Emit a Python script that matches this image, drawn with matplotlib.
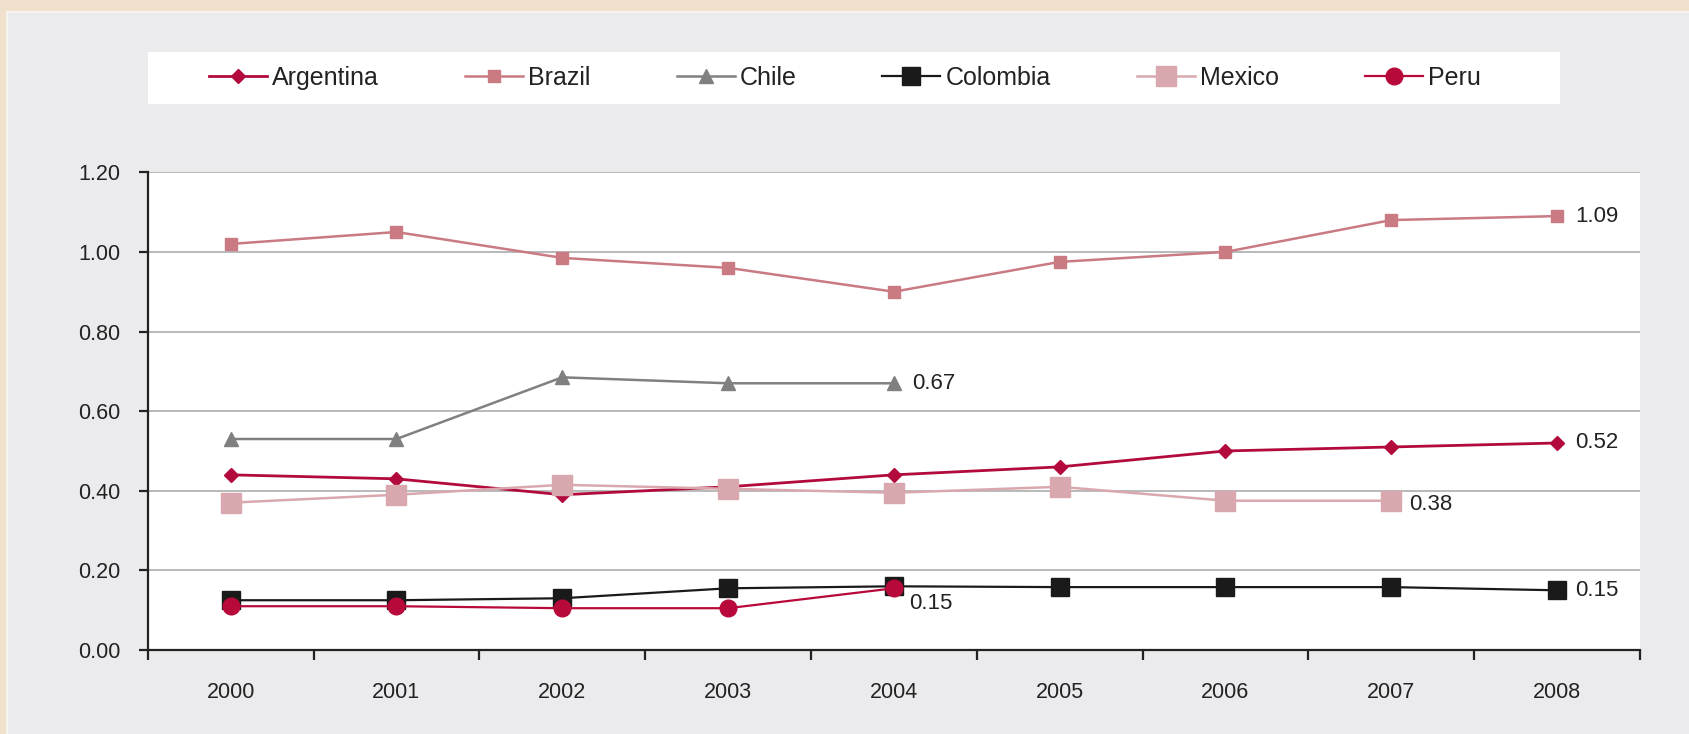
import numpy as np
import matplotlib
matplotlib.use("Agg")
import matplotlib.pyplot as plt
from matplotlib.patches import Rectangle

# ---------------- data ----------------
years = ["2000", "2001", "2002", "2003", "2004", "2005", "2006", "2007", "2008"]
nan = np.nan
argentina = [0.44, 0.43, 0.39, 0.41, 0.44, 0.46, 0.50, 0.51, 0.52]
brazil    = [1.02, 1.05, 0.985, 0.96, 0.90, 0.975, 1.00, 1.08, 1.09]
chile     = [0.53, 0.53, 0.685, 0.67, 0.67, nan, nan, nan, nan]
colombia  = [0.125, 0.125, 0.13, 0.155, 0.16, 0.158, 0.158, 0.158, 0.15]
mexico    = [0.37, 0.39, 0.415, 0.405, 0.395, 0.41, 0.375, 0.375, nan]
peru      = [0.11, 0.11, 0.105, 0.105, 0.155, nan, nan, nan, nan]

series_names = ["Argentina", "Brazil", "Chile", "Colombia", "Mexico", "Peru"]
end_labels = {"Brazil": "1.09", "Chile": "0.67", "Argentina": "0.52",
              "Mexico": "0.38", "Colombia": "0.15", "Peru": "0.15"}
yticks = [0.0, 0.2, 0.4, 0.6, 0.8, 1.0, 1.2]

# ---------------- styles ----------------
styles = {
    "Argentina": dict(color="#b20a3c", marker="D", ms=7.0, lw=2.0),
    "Brazil":    dict(color="#c97a83", marker="s", ms=8.0, lw=1.8),
    "Chile":     dict(color="#808080", marker="^", ms=10.5, lw=1.8),
    "Colombia":  dict(color="#1a1a1a", marker="s", ms=13.0, lw=1.6),
    "Mexico":    dict(color="#d9a8ae", marker="s", ms=14.0, lw=1.8),
    "Peru":      dict(color="#b80a3a", marker="o", ms=12.0, lw=1.6),
}
label_offsets = {"Brazil": (13, 0), "Chile": (13, 0), "Argentina": (13, 0),
                 "Mexico": (13, -3), "Colombia": (13, 0), "Peru": (11, -11)}

W, H = 1690, 734
fig = plt.figure(figsize=(W / 100, H / 100), dpi=100)
fig.patch.set_facecolor("#efe1cb")

def fr(x0, y0_top, x1, y1_top, **kw):
    r = Rectangle((x0 / W, 1 - y1_top / H), (x1 - x0) / W, (y1_top - y0_top) / H,
                  transform=fig.transFigure, **kw)
    fig.patches.append(r)

fr(6, 11, W, H, facecolor="#f7f4ef", edgecolor="none", zorder=-3)
fr(8, 13, W, H, facecolor="#ebebed", edgecolor="none", zorder=-2)
fr(147.7, 52, 1559.6, 104, facecolor="white", edgecolor="none", zorder=-1)

regular = ["Liberation Sans", "DejaVu Sans"]

left, right, top, bottom = 147.7, 1640, 172.3, 650
ax = fig.add_axes([left / W, 1 - bottom / H, (right - left) / W, (bottom - top) / H])
ax.set_facecolor("white")

x = np.arange(len(years))
data = {"Argentina": argentina, "Brazil": brazil, "Chile": chile,
        "Colombia": colombia, "Mexico": mexico, "Peru": peru}

handles = []
for i, name in enumerate(series_names):
    st = styles[name]
    y = np.array(data[name], dtype=float)
    (ln,) = ax.plot(x, y, color=st["color"], lw=st["lw"], marker=st["marker"],
                    ms=st["ms"], mec=st["color"], mfc=st["color"], zorder=3 + i,
                    clip_on=False)
    handles.append(ln)
    idx = np.where(~np.isnan(y))[0][-1]
    dx, dy = label_offsets[name]
    ax.annotate(end_labels[name], xy=(x[idx], y[idx]), xytext=(dx, dy),
                textcoords="offset points", ha="left", va="center",
                fontsize=16, family=regular, color="#222222", zorder=20)

ax.set_xlim(-0.5, len(years) - 0.5)
ax.set_ylim(0, 1.2)

ax.set_xticks(np.arange(-0.5, len(years) + 0.5, 1.0))
ax.set_xticklabels([])
ax.set_xticks(x, minor=True)
ax.set_xticklabels(years, minor=True, fontsize=15.5, family=regular, color="#222222")
ax.tick_params(axis="x", which="major", length=7, width=1.6, color="#222222", direction="out")
ax.tick_params(axis="x", which="minor", length=0, pad=23)

ax.set_yticks(yticks)
ax.set_yticklabels([f"{v:.2f}" for v in yticks], fontsize=15.5, family=regular, color="#222222")
ax.tick_params(axis="y", length=6.5, width=1.6, color="#222222", pad=13)

ax.grid(axis="y", color="#b9b9b9", lw=1.4, zorder=1)
ax.set_axisbelow(True)
for s in ["top", "right"]:
    ax.spines[s].set_visible(False)
for s in ["left", "bottom"]:
    ax.spines[s].set_color("#222222")
    ax.spines[s].set_linewidth(1.6)
    ax.spines[s].set_zorder(2)

fig.legend(handles, series_names, loc="center", bbox_to_anchor=(845 / W, 1 - 78 / H),
           ncol=6, frameon=False, prop=dict(family=regular, size=18),
           handlelength=2.32, handletextpad=0.2, columnspacing=3.44,
           labelcolor="#222222")

fig.savefig("out.png", dpi=100, facecolor=fig.get_facecolor())
